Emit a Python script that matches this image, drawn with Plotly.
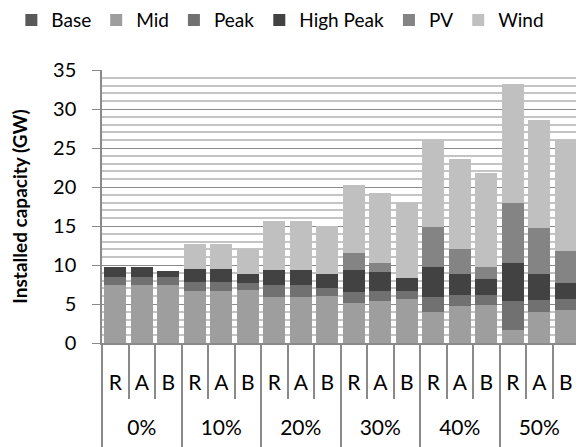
import plotly.graph_objects as go

groups = ["0%", "10%", "20%", "30%", "40%", "50%"]
cases = ["R", "A", "B"]

base = [0]*18
mid = [7.5, 7.5, 7.5, 6.65, 6.65, 6.75, 5.95, 5.95, 6.05, 5.15, 5.4, 5.65, 4.0, 4.7, 4.9, 1.65, 4.0, 4.2]
peak = [0.95, 0.95, 0.9, 1.2, 1.2, 0.95, 1.45, 1.45, 1.0, 1.4, 1.3, 1.05, 1.95, 1.5, 1.3, 3.75, 1.55, 1.45]
high_peak = [1.35, 1.35, 0.8, 1.7, 1.7, 1.2, 2.0, 1.95, 1.75, 2.85, 2.45, 1.65, 3.85, 2.65, 1.95, 4.8, 3.25, 2.0]
pv = [0, 0, 0, 0, 0, 0, 0, 0, 0, 2.1, 1.05, 0, 5.05, 3.25, 1.65, 7.7, 6.0, 4.2]
wind = [0, 0, 0, 3.15, 3.15, 3.15, 6.25, 6.25, 6.25, 8.7, 9.0, 9.55, 11.2, 11.5, 12.0, 15.25, 13.8, 14.2]

series = [
    ("Base", base, "#595959"),
    ("Mid", mid, "#9e9e9e"),
    ("Peak", peak, "#717171"),
    ("High Peak", high_peak, "#424242"),
    ("PV", pv, "#848484"),
    ("Wind", wind, "#c0c0c0"),
]

cat_keys = [f"{g} {c}" for g in groups for c in cases]
cat_text = [c for _ in groups for c in cases]
n = len(cat_keys)
k = len(cases)
group_centers = [i * k + (k - 1) / 2 for i in range(len(groups))]
group_bounds = [i * k - 0.5 for i in range(len(groups) + 1)]
inner_bounds = [i - 0.5 for i in range(n + 1)]

fig = go.Figure()
for name, vals, col in series:
    fig.add_trace(go.Bar(x=cat_keys, y=vals, name=name, marker=dict(color=col, line=dict(width=0))))

# invisible helper traces that activate the decoration x-axes
for ax in ("x2", "x3"):
    fig.add_trace(go.Scatter(x=[group_centers[0]], y=[0], xaxis=ax, mode="markers",
                             marker=dict(opacity=0), showlegend=False, hoverinfo="skip"))

FONT = "Lato, Carlito, Calibri, sans-serif"
AX = "#8a8a8a"
fig.update_layout(
    template="none",
    barmode="stack",
    bargap=0.18,
    width=576, height=439,
    margin=dict(l=94, r=5, t=62, b=103.7, autoexpand=False),
    plot_bgcolor="white", paper_bgcolor="white",
    font=dict(family=FONT, size=20, color="black"),
    legend=dict(orientation="h", x=-0.19, y=1.252, xanchor="left", yanchor="top",
                font=dict(size=19), traceorder="normal", itemwidth=30, tracegroupgap=0),
    showlegend=True,
    xaxis=dict(type="category", range=[-0.5, n - 0.5], tickvals=cat_keys, ticktext=cat_text,
               showline=True, linecolor=AX, linewidth=1.5, ticks="", automargin=False,
               tickfont=dict(size=21), ticklabelstandoff=20, showgrid=False, zeroline=False),
    xaxis2=dict(overlaying="x", anchor="y", side="bottom", range=[-0.5, n - 0.5], automargin=False,
                tickmode="array", tickvals=group_centers, ticktext=groups, ticks="",
                tickfont=dict(size=21), ticklabelstandoff=70,
                showgrid=False, zeroline=False, showline=False,
                minor=dict(tickvals=inner_bounds, ticks="outside", ticklen=55,
                           tickcolor=AX, tickwidth=1.5, showgrid=False)),
    xaxis3=dict(overlaying="x", anchor="y", side="bottom", range=[-0.5, n - 0.5], automargin=False,
                tickmode="array", tickvals=group_bounds, showticklabels=False,
                ticks="outside", ticklen=104, tickcolor=AX, tickwidth=1.5,
                showgrid=False, zeroline=False, showline=False),
    yaxis=dict(range=[0, 35], dtick=5, showgrid=True, gridcolor=AX, gridwidth=1, automargin=False,
               minor=dict(dtick=1, showgrid=True, gridcolor="#c4c4c4", gridwidth=1.5),
               showline=True, linecolor=AX, linewidth=1.5,
               ticks="outside", ticklen=8, tickcolor=AX, ticklabelstandoff=12,
               tickfont=dict(size=20),
               title=dict(text="<b>Installed capacity (GW)</b>", font=dict(size=19), standoff=24),
               zeroline=False),
)
fig.write_html("out.html")
